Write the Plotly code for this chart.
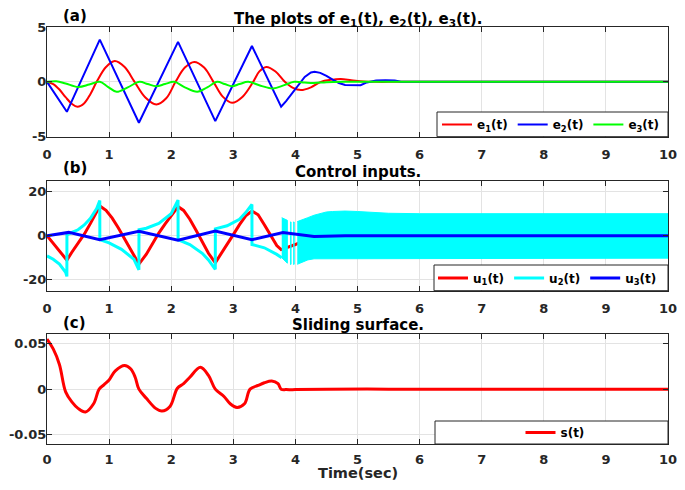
import plotly.graph_objects as go
from plotly.subplots import make_subplots

# ---- data ----
e1_t = [0, 0.1, 0.2, 0.3, 0.4, 0.49, 0.6, 0.7, 0.8, 0.95, 1.09, 1.25, 1.41, 1.58, 1.76, 1.92, 2.07,
        2.22, 2.37, 2.53, 2.68, 2.83, 2.98, 3.15, 3.32, 3.42, 3.53, 3.68, 3.83, 3.96, 4.09, 4.25,
        4.41, 4.57, 4.73, 4.9, 5.1, 5.3, 5.6, 6, 7, 8, 9, 10]
e1_v = [0, -0.2, -0.7, -1.4, -2.0, -2.27, -1.95, -1.1, 0, 1.35, 1.9, 1.35, 0, -1.4, -2.06, -1.5, 0,
        1.3, 1.82, 1.3, 0, -1.35, -1.91, -1.35, 0, 0.95, 1.36, 0.95, 0, -0.55, -0.75, -0.5,
        0, 0.18, 0.25, 0.15, 0.03, 0, 0, 0, 0, 0, 0, 0]

e2_t = [0, 0.32, 0.85, 1.48, 2.11, 2.71, 3.30, 3.77, 3.85, 3.95, 4.05, 4.15, 4.25, 4.31, 4.4, 4.5,
        4.6, 4.7, 4.8, 4.95, 5.05, 5.15, 5.3, 5.45, 5.6, 5.7, 10]
e2_v = [0, -2.73, 3.85, -3.73, 3.64, -3.58, 3.27, -2.27, -1.75, -1.0, -0.25, 0.45, 0.85, 0.91, 0.82, 0.55,
        0.2, -0.1, -0.28, -0.3, -0.3, -0.05, 0.12, 0.15, 0.12, 0, 0]

e3_t = [0, 0.15, 0.3, 0.5, 0.68, 0.85, 0.98, 1.12, 1.3, 1.49, 1.62, 1.76, 1.9, 2.05, 2.22, 2.42,
        2.58, 2.74, 2.86, 2.98, 3.1, 3.24, 3.44, 3.64, 3.82, 3.98, 4.15, 4.3, 4.5, 4.8, 5.5, 6.5,
        7.5, 8.5, 10]
e3_v = [0, 0.05, -0.15, -0.47, -0.25, 0, -0.45, -0.9, -0.5, 0, -0.2, -0.4, -0.2, 0, -0.5, -0.9,
        -0.5, 0, -0.2, -0.39, -0.2, 0, -0.35, -0.6, -0.3, 0, -0.06, -0.1, -0.03, 0, 0, 0,
        0, 0, 0]

u1_t = [0, 0.32, 0.4, 0.5, 0.6, 0.7, 0.85, 0.95, 1.05, 1.15, 1.25, 1.35, 1.48, 1.6, 1.7, 1.8, 1.9, 2.0,
        2.11, 2.2, 2.3, 2.4, 2.5, 2.6, 2.71, 2.8, 2.9, 3.0, 3.1, 3.2, 3.3, 3.4, 3.5, 3.6, 3.7, 3.77,
        3.9, 4.0, 4.15, 4.3, 10]
u1_v = [0, -11.1, -7.5, -3.3, 0.7, 5.6, 13.5, 11.5, 8, 3.5, -1.5, -6.5, -12.9, -8.4, -3.6, 1.2, 5.3, 9.3,
        13.2, 11.5, 7.5, 2.5, -2.8, -8, -12.3, -8.5, -4, 0.5, 5, 9, 11.2, 9.5, 5, 0, -4.5, -6.3,
        -5, -4, -2, 0, 0]

u2_t = [0, 0.1, 0.2, 0.3, 0.32, 0.321, 0.4, 0.5, 0.6, 0.7, 0.8, 0.85, 0.851, 1.0, 1.2, 1.4, 1.48, 1.481,
        1.6, 1.8, 2.0, 2.11, 2.111, 2.3, 2.5, 2.6, 2.71, 2.711, 2.9, 3.1, 3.2, 3.3, 3.301, 3.5, 3.7, 3.78]
u2_v = [-9.2, -10.7, -12.9, -16.6, -18.5, 0.4, 1.5, 2.7, 4.9, 7.9, 12.3, 16, -1.8, -3.3, -6.2, -10.7, -15.5, 2.7,
        3.4, 5.6, 10, 16.2, -1.8, -4, -8, -11, -15.3, 3.1, 4.5, 7.5, 10.5, 14.2, -4, -5.5, -8.5, -10]

# chattering of u2 after t~3.8, drawn as its envelope (pieces split by the white gaps)
chat_t = [[3.78, 3.87], [3.915, 3.93], [3.965, 3.98], [4.03, 4.1, 4.2, 4.3, 4.4, 4.5, 4.6, 4.8, 5.0, 5.2, 5.5, 6.0, 10.0]]
chat_hi = [[8.2, 7.0], [6.2, 6.2], [6.2, 6.2], [6.4, 7.0, 8.2, 9.3, 10.2, 10.8, 11.0, 11.2, 11.0, 10.6, 10.2, 10.0, 10.0]]
chat_lo = [[-10, -12.5], [-13, -13], [-13, -13], [-13, -12, -11, -10.5, -10.3, -10.3, -10.3, -10.3, -10.3, -10.3, -10.2, -10.2, -10.2]]

u3_t = [0, 0.35, 0.85, 1.48, 2.11, 2.71, 3.3, 3.8, 4.3, 4.8, 10]
u3_v = [0, 1.5, -1.8, 2.0, -2.0, 2.1, -1.8, 1.4, -0.4, 0, 0]

s_t = [0, 0.1, 0.2, 0.3, 0.4, 0.5, 0.62, 0.75, 0.84, 0.92, 1.0, 1.1, 1.25, 1.35, 1.42, 1.48, 1.6, 1.75,
       1.85, 1.98, 2.1, 2.2, 2.3, 2.47, 2.6, 2.71, 2.85, 2.95, 3.06, 3.18, 3.27, 3.4, 3.5, 3.62, 3.72, 3.77,
       3.85, 4.0, 4.5, 5.5, 6.5, 7.5, 8.5, 10]
s_v = [0.0548, 0.044, 0.027, -0.003, -0.014, -0.021, -0.025, -0.016, 0.0, 0.005, 0.010, 0.020, 0.026, 0.022,
       0.013, 0.0, -0.010, -0.021, -0.024, -0.019, 0.001, 0.006, 0.013, 0.024, 0.015, 0.0, -0.008, -0.016,
       -0.020, -0.016, 0.0, 0.004, 0.007, 0.009, 0.006, 0.0,
       -0.0005, -0.0005, 0.0, 0.0, 0.0, 0.0, 0.0, 0.0]

# the page adds an 8 px body margin, so the figure is drawn smaller and positions are shifted;
# 474 px tall keeps the page from overflowing the 490 px window
OFF = 8
W, H = 677, 474
RIGHT = 668  # right edge of the plots (page px), leaves room for the "10" label
ML, MR, MT, MB = 39, W + OFF - RIGHT, 19, 38
FONT = "DejaVu Sans, sans-serif"
DARK = "#262626"


def xp(px):
    return (px - OFF - ML) / (W - ML - MR)


def yp(py):
    return (H - MB - (py - OFF)) / (H - MT - MB)


def clamp(v):
    return min(1.0, max(0.0, v))


fig = make_subplots(rows=3, cols=1)

fig.add_trace(go.Scatter(x=e1_t, y=e1_v, name="e<sub>1</sub>(t)", mode="lines", line_shape="spline",
                         line=dict(color="#ff0000", width=2), legend="legend"), row=1, col=1)
fig.add_trace(go.Scatter(x=e2_t, y=e2_v, name="e<sub>2</sub>(t)", mode="lines",
                         line=dict(color="#0000ff", width=2), legend="legend"), row=1, col=1)
fig.add_trace(go.Scatter(x=e3_t, y=e3_v, name="e<sub>3</sub>(t)", mode="lines", line_shape="spline",
                         line=dict(color="#00ff00", width=2), legend="legend"), row=1, col=1)

fig.add_trace(go.Scatter(x=u1_t, y=u1_v, name="u<sub>1</sub>(t)", mode="lines",
                         line=dict(color="#ff0000", width=3), legend="legend2"), row=2, col=1)
fig.add_trace(go.Scatter(x=u2_t, y=u2_v, name="u<sub>2</sub>(t)", mode="lines",
                         line=dict(color="#00ffff", width=3), legend="legend2"), row=2, col=1)
for tt, hi, lo in zip(chat_t, chat_hi, chat_lo):
    fig.add_trace(go.Scatter(x=tt + tt[::-1], y=hi + lo[::-1], mode="lines", fill="toself",
                             fillcolor="#00ffff", line=dict(color="#00ffff", width=1),
                             showlegend=False, hoverinfo="skip"), row=2, col=1)
fig.add_trace(go.Scatter(x=u3_t, y=u3_v, name="u<sub>3</sub>(t)", mode="lines",
                         line=dict(color="#0000ff", width=3), legend="legend2"), row=2, col=1)

fig.add_trace(go.Scatter(x=s_t, y=s_v, name="s(t)", mode="lines", line_shape="spline",
                         line=dict(color="#ff0000", width=3), legend="legend3"), row=3, col=1)

tickfont = dict(family=FONT, size=13, color=DARK, weight="bold")
domains = [(136.7, 27), (290.7, 180.7), (444, 334.3)]
yranges = [[-5, 5], [-25, 25], [-0.06, 0.06]]
yticks = [([-5, 0, 5], ["-5", "0", "5"]), ([-20, 0, 20], ["-20", "0", "20"]),
          ([-0.05, 0, 0.05], ["-0.05", "0", "0.05"])]
xstandoff = [6, 6, 3]
for i in range(3):
    fig.update_xaxes(range=[0, 10], dtick=1, showgrid=True, gridcolor="#e3e3e3", zeroline=False,
                     showline=True, linecolor=DARK, linewidth=1, mirror="allticks", ticks="inside",
                     ticklen=5, tickcolor=DARK, tickfont=tickfont, ticklabelstandoff=xstandoff[i],
                     automargin=False, row=i + 1, col=1)
    fig.update_yaxes(range=yranges[i], tickvals=yticks[i][0], ticktext=yticks[i][1],
                     domain=[clamp(yp(domains[i][0])), clamp(yp(domains[i][1]))],
                     showgrid=True, gridcolor="#e3e3e3", zeroline=False,
                     showline=True, linecolor=DARK, linewidth=1, mirror="allticks", ticks="inside",
                     ticklen=5, tickcolor=DARK, tickfont=tickfont, ticklabelstandoff=-3,
                     automargin=False, row=i + 1, col=1)

# legend boxes (MATLAB-style wide boxes at the lower right)
boxes = [(437, 112, RIGHT, 136.7), (434, 265, RIGHT, 290.7), (435, 421, RIGHT, 444)]
for x0, y0, x1, y1 in boxes:
    fig.add_shape(type="rect", xref="paper", yref="paper", x0=xp(x0), x1=xp(x1), y0=yp(y1), y1=yp(y0),
                  fillcolor="white", line=dict(color=DARK, width=1), layer="above")

legfont = dict(family=FONT, size=12, color="black", weight="bold")
leg_common = dict(orientation="h", bgcolor="rgba(0,0,0,0)", borderwidth=0, font=legfont,
                  itemwidth=30, tracegroupgap=0, yanchor="middle")
fig.update_layout(
    legend=dict(x=xp(437), y=yp(124.5), xanchor="left", **leg_common),
    legend2=dict(x=xp(433), y=yp(278), xanchor="left", **leg_common),
    legend3=dict(x=xp(555), y=yp(432.5), xanchor="center", **leg_common),
)

titlefont = dict(family=FONT, size=15, color="black", weight="bold")
fig.add_annotation(text="The plots of e<sub>1</sub>(t), e<sub>2</sub>(t), e<sub>3</sub>(t).",
                   x=xp(358), y=yp(8), xref="paper", yref="paper", showarrow=False,
                   xanchor="center", yanchor="top", font=titlefont)
notes = [
    ("(a)", 75, 16.5),
    ("Control inputs.", 358, 172),
    ("(b)", 75, 168),
    ("Sliding surface.", 358, 325),
    ("(c)", 74, 323),
]
for text, x, y in notes:
    fig.add_annotation(text=text, x=xp(x), y=yp(y), xref="paper", yref="paper", showarrow=False,
                       xanchor="center", yanchor="middle", font=titlefont)
fig.add_annotation(text="Time(sec)", x=xp(358), y=yp(482), xref="paper", yref="paper", showarrow=False,
                   xanchor="center", yanchor="bottom", borderpad=0,
                   font=dict(family=FONT, size=14.5, color=DARK, weight="bold"))

fig.update_layout(width=W, height=H, margin=dict(l=ML, r=MR, t=MT, b=MB),
                  plot_bgcolor="white", paper_bgcolor="white")

fig.write_html("out.html")
